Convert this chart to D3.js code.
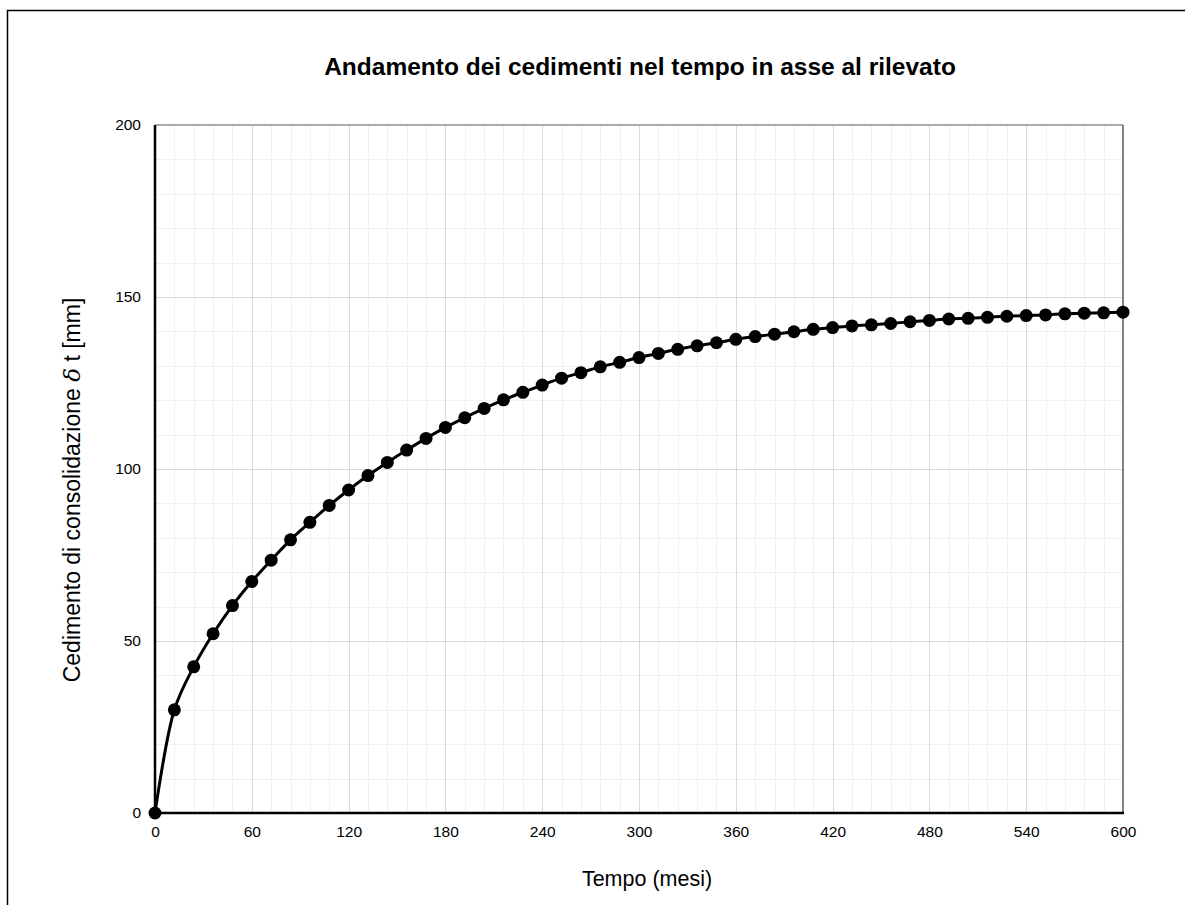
<!DOCTYPE html>
<html>
<head>
<meta charset="utf-8">
<script src="https://cdn.jsdelivr.net/npm/d3@7"></script>
<style>
  body { margin: 0; background: #fff; }
  text { font-family: "Liberation Sans", Arial, sans-serif; fill: #000; }
</style>
</head>
<body>
<div id="chart"></div>
<script>
// data (months, mm)
var months = d3.range(0, 601, 12);
var settlement = [0, 30.0, 42.5, 52.1, 60.3, 67.3, 73.5, 79.4, 84.5, 89.4,
    93.9, 98.1, 101.9, 105.5, 108.9, 112.1, 114.9, 117.6, 120.1, 122.3,
    124.4, 126.4, 128.0, 129.7, 131.0, 132.4, 133.6, 134.8, 135.8, 136.7,
    137.7, 138.5, 139.2, 139.9, 140.6, 141.1, 141.6, 141.9, 142.3, 142.8,
    143.2, 143.6, 143.8, 144.1, 144.4, 144.6, 144.8, 145.1, 145.3, 145.4, 145.6];
var xTicks = [0, 60, 120, 180, 240, 300, 360, 420, 480, 540, 600];
var yTicks = [0, 50, 100, 150, 200];

var width = 1185, height = 905;
var plot = { left: 155, right: 1123, top: 125, bottom: 813 };

var svg = d3.select("#chart").append("svg")
    .attr("width", width)
    .attr("height", height);

// outer chart frame (runs off the bottom/right edge like the original)
svg.append("rect")
    .attr("x", 7.5).attr("y", 10.5)
    .attr("width", 1190).attr("height", 960)
    .attr("fill", "none").attr("stroke", "#000").attr("stroke-width", 1.5);

var x = d3.scaleLinear().domain([0, 600]).range([plot.left, plot.right]);
var y = d3.scaleLinear().domain([0, 200]).range([plot.bottom, plot.top]);

// minor grid
var grid = svg.append("g").attr("class", "grid");
grid.selectAll(".vminor")
    .data(d3.range(12, 600, 12).filter(function (d) { return d % 60 != 0; }))
    .enter().append("line")
    .attr("x1", function (d) { return Math.round(x(d)) + 0.5; })
    .attr("x2", function (d) { return Math.round(x(d)) + 0.5; })
    .attr("y1", plot.top).attr("y2", plot.bottom)
    .attr("stroke", "#f0f0f0");
grid.selectAll(".hminor")
    .data(d3.range(10, 200, 10).filter(function (d) { return d % 50 != 0; }))
    .enter().append("line")
    .attr("y1", function (d) { return Math.round(y(d)) + 0.5; })
    .attr("y2", function (d) { return Math.round(y(d)) + 0.5; })
    .attr("x1", plot.left).attr("x2", plot.right)
    .attr("stroke", "#f0f0f0");
// major grid
grid.selectAll(".vmajor")
    .data(xTicks.slice(1, -1))
    .enter().append("line")
    .attr("x1", function (d) { return Math.round(x(d)) + 0.5; })
    .attr("x2", function (d) { return Math.round(x(d)) + 0.5; })
    .attr("y1", plot.top).attr("y2", plot.bottom)
    .attr("stroke", "#d9d9d9");
grid.selectAll(".hmajor")
    .data(yTicks.slice(1, -1))
    .enter().append("line")
    .attr("y1", function (d) { return Math.round(y(d)) + 0.5; })
    .attr("y2", function (d) { return Math.round(y(d)) + 0.5; })
    .attr("x1", plot.left).attr("x2", plot.right)
    .attr("stroke", "#d9d9d9");

// plot frame: top and right thin grey, left and bottom black
svg.append("line")
    .attr("x1", plot.left).attr("x2", plot.right)
    .attr("y1", plot.top).attr("y2", plot.top)
    .attr("stroke", "#595959").attr("stroke-width", 1.2);
svg.append("line")
    .attr("x1", plot.right).attr("x2", plot.right)
    .attr("y1", plot.top).attr("y2", plot.bottom)
    .attr("stroke", "#595959").attr("stroke-width", 1.5);

// axes (labels only, lines drawn by hand below)
var xAxis = svg.append("g")
    .attr("transform", "translate(0," + plot.bottom + ")")
    .call(d3.axisBottom(x).tickValues(xTicks).tickSize(0).tickPadding(13));
var yAxis = svg.append("g")
    .attr("transform", "translate(" + plot.left + ",0)")
    .call(d3.axisLeft(y).tickValues(yTicks).tickSize(0).tickPadding(14));
[xAxis, yAxis].forEach(function (a) {
    a.select(".domain").remove();
    a.selectAll("text")
        .style("font-family", "'Liberation Sans', Arial, sans-serif")
        .style("font-size", "15.5px")
        .attr("fill", "#000");
});

svg.append("line")
    .attr("x1", plot.left).attr("x2", plot.right + 1)
    .attr("y1", plot.bottom).attr("y2", plot.bottom)
    .attr("stroke", "#000").attr("stroke-width", 2.5);
svg.append("line")
    .attr("x1", plot.left).attr("x2", plot.left)
    .attr("y1", plot.top).attr("y2", plot.bottom + 1)
    .attr("stroke", "#000").attr("stroke-width", 2.5);

// series
var points = months.map(function (m, i) { return [m, settlement[i]]; });
var line = d3.line()
    .x(function (d) { return x(d[0]); })
    .y(function (d) { return y(d[1]); })
    .curve(d3.curveCatmullRom);

svg.append("path")
    .datum(points)
    .attr("d", line)
    .attr("fill", "none")
    .attr("stroke", "#000")
    .attr("stroke-width", 3);

svg.selectAll(".dot")
    .data(points)
    .enter().append("circle")
    .attr("class", "dot")
    .attr("cx", function (d) { return x(d[0]); })
    .attr("cy", function (d) { return y(d[1]); })
    .attr("r", 6.5)
    .attr("fill", "#000");

// titles
svg.append("text")
    .attr("x", 640).attr("y", 75)
    .attr("text-anchor", "middle")
    .style("font-size", "24.5px")
    .style("font-weight", "bold")
    .text("Andamento dei cedimenti nel tempo in asse al rilevato");

svg.append("text")
    .attr("x", 647).attr("y", 886)
    .attr("text-anchor", "middle")
    .style("font-size", "21.5px")
    .text("Tempo (mesi)");

// vertical title is centred on the whole chart frame, not the plot
var ytitle = svg.append("text")
    .attr("transform", "translate(80,490) rotate(-90)")
    .attr("text-anchor", "middle")
    .style("font-size", "23px");
ytitle.append("tspan").text("Cedimento di consolidazione ");
ytitle.append("tspan")
    .style("font-family", "'DejaVu Serif', 'Liberation Serif', serif")
    .style("font-style", "italic")
    .text("δ");
ytitle.append("tspan").text(" t [mm]");
</script>
</body>
</html>
